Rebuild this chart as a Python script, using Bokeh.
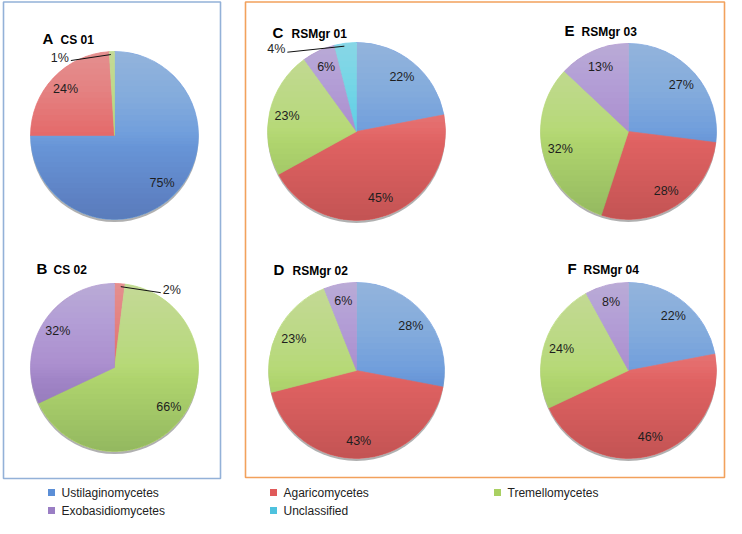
import math
from bokeh.plotting import figure
from bokeh.models import Range1d, ColumnDataSource
from bokeh.core.properties import value
from bokeh.embed import file_html
from bokeh.resources import INLINE

# ---------------- data ----------------
categories = ["Ustilaginomycetes", "Agaricomycetes", "Tremellomycetes",
              "Exobasidiomycetes", "Unclassified"]
panel_letters = ["A", "B", "C", "D", "E", "F"]
panel_names = ["CS 01", "CS 02", "RSMgr 01", "RSMgr 02", "RSMgr 03", "RSMgr 04"]
cs01 = [75, 24, 1, 0, 0]
cs02 = [0, 2, 66, 32, 0]
rsmgr01 = [22, 45, 23, 6, 4]
rsmgr02 = [28, 43, 23, 6, 0]
rsmgr03 = [27, 28, 32, 13, 0]
rsmgr04 = [22, 46, 24, 8, 0]
panel_values = [cs01, cs02, rsmgr01, rsmgr02, rsmgr03, rsmgr04]

# ---------------- style / layout (reference pixel space) ----------------
slice_colors = ["#6A9ADC", "#E46464", "#B4D970", "#A68ACC", "#58CCE6"]
legend_colors = ["#5B8ED6", "#E05A5A", "#A9D062", "#9A7EC4", "#4EC2DE"]
H = 534  # reference height; data y = H - ref_y
W_FIG, H_FIG = 726, 518

centers = [(114, 135), (114, 367), (356, 131), (356, 370), (628, 131), (628, 370)]
radii = [84, 84, 89, 88, 88, 88]
letter_pos = [(42, 38), (36, 268), (272, 32), (273, 269), (564, 30), (567, 268)]
name_pos = [(60, 39), (53, 269), (291, 33), (292, 270), (581, 31), (583, 269)]
callout_dx = [-43, 43, -60, 0, 0, 0]   # horizontal offset of outside labels
small_cut = 5  # slices below this % get an outside label

FONT = "Liberation Sans"

p = figure(width=W_FIG, height=H_FIG, output_backend="svg", toolbar_location=None,
           x_range=Range1d(0, W_FIG), y_range=Range1d(H - H_FIG, H),
           x_axis_location=None, y_axis_location=None, min_border=0)
p.outline_line_color = None
p.xgrid.visible = False
p.ygrid.visible = False
p.background_fill_color = "white"

# panel frames
p.quad(left=[3], right=[220], top=[H - 1.5], bottom=[H - 478],
       fill_color=None, line_color="#93B1D8", line_width=1.6)
p.quad(left=[245], right=[724], top=[H - 1.5], bottom=[H - 477],
       fill_color=None, line_color="#F2A15C", line_width=1.6)


def segment_poly(cx, cyd, r, yt, above=True, n=48):
    """Polygon of the part of a circle above (or below) the line y = yt (data coords)."""
    s = max(-1.0, min(1.0, (yt - cyd) / r))
    a0 = math.asin(s)
    if above:
        angs = [a0 + (math.pi - 2 * a0) * j / n for j in range(n + 1)]
    else:
        angs = [math.pi - a0 + (math.pi + 2 * a0) * j / n for j in range(n + 1)]
    return ([cx + r * math.cos(a) for a in angs], [cyd + r * math.sin(a) for a in angs])


in_x, in_y, in_t = [], [], []
out_x, out_y, out_t, out_align = [], [], [], []
lead_x0, lead_y0, lead_x1, lead_y1 = [], [], [], []
hl_xs, hl_ys, sh_xs, sh_ys = [], [], [], []
N_GRAD = 16

for i, vals in enumerate(panel_values):
    cx, cy = centers[i]
    r = radii[i]
    cyd = H - cy
    total = float(sum(vals))
    # subtle bottom shadow
    p.circle(x=[cx], y=[cyd - 2.5], radius=r, fill_color="#3a3a3a",
             fill_alpha=0.4, line_color=None)
    xs, ys, starts, ends, cols = [], [], [], [], []
    cum = 0.0
    for k, v in enumerate(vals):
        if v <= 0:
            continue
        f0 = cum / total
        f1 = (cum + v) / total
        cum += v
        xs.append(cx)
        ys.append(cyd)
        starts.append(math.pi / 2 - 2 * math.pi * f1)
        ends.append(math.pi / 2 - 2 * math.pi * f0)
        cols.append(slice_colors[k])
        th = 2 * math.pi * (f0 + f1) / 2  # clockwise from 12 o'clock
        lab = "%d%%" % v
        if v < small_cut:
            ex = cx + r * math.sin(th)
            ey = cy - r * math.cos(th)
            dx = callout_dx[i]
            out_x.append(ex + dx)
            out_y.append(H - (ey + 6))
            out_t.append(lab)
            out_align.append("right" if dx < 0 else "left")
            lead_x0.append(ex - 1 if dx < 0 else ex + 1)
            lead_y0.append(H - (ey + 3))
            lead_x1.append(ex + dx + (2 if dx < 0 else -2))
            lead_y1.append(H - (ey + 9))
        else:
            in_x.append(cx + 0.8 * r * math.sin(th))
            in_y.append(H - (cy - 0.8 * r * math.cos(th)))
            in_t.append(lab)
    src = ColumnDataSource(dict(x=xs, y=ys, s=starts, e=ends, c=cols))
    p.wedge(x="x", y="y", radius=r, start_angle="s", end_angle="e",
            fill_color="c", line_color="c", line_width=0.6, source=src)
    # vertical light-to-dark shading layers
    for j in range(N_GRAD):
        yt = cyd + r - (j + 1) * (1.1 * r) / N_GRAD
        px_, py_ = segment_poly(cx, cyd, r, yt, above=True)
        hl_xs.append(px_)
        hl_ys.append(py_)
        yb = cyd - r + (j + 1) * (1.0 * r) / N_GRAD
        px_, py_ = segment_poly(cx, cyd, r, yb, above=False)
        sh_xs.append(px_)
        sh_ys.append(py_)

p.patches(xs=hl_xs, ys=hl_ys, fill_color="white", fill_alpha=0.022, line_color=None)
p.patches(xs=sh_xs, ys=sh_ys, fill_color="#300000", fill_alpha=0.008, line_color=None)

# leader lines
p.segment(x0=lead_x0, y0=lead_y0, x1=lead_x1, y1=lead_y1,
          line_color="#111111", line_width=1)

# labels
p.text(x=in_x, y=in_y, text=in_t, text_align="center", text_baseline="middle",
       text_font=value(FONT), text_font_size="12.5px", text_color="#1e1e1e")
p.text(x=out_x, y=out_y, text=out_t, text_align=out_align, text_baseline="middle",
       text_font=value(FONT), text_font_size="12.5px", text_color="#1e1e1e")

# titles
p.text(x=[q[0] for q in letter_pos], y=[H - q[1] for q in letter_pos],
       text=panel_letters, text_align="left", text_baseline="middle",
       text_font=value(FONT), text_font_size="15px", text_font_style="bold",
       text_color="#000000")
p.text(x=[q[0] for q in name_pos], y=[H - q[1] for q in name_pos],
       text=panel_names, text_align="left", text_baseline="middle",
       text_font=value(FONT), text_font_size="12px", text_font_style="bold",
       text_color="#000000")

# legend
leg_col_x = [51, 273, 497]
leg_row_y = [492, 510]
lx, ly, lt, lc = [], [], [], []
for k, name in enumerate(categories):
    col = k % 3
    row = k // 3
    lx.append(leg_col_x[col])
    ly.append(H - leg_row_y[row])
    lt.append(name)
    lc.append(legend_colors[k])
p.scatter(x=lx, y=ly, marker="square", size=7, fill_color=lc, line_color=None)
p.text(x=[v + 10 for v in lx], y=ly, text=lt, text_align="left",
       text_baseline="middle", text_font=value(FONT), text_font_size="12px",
       text_color="#222222")

open("out.html", "w").write(file_html(p, INLINE))
